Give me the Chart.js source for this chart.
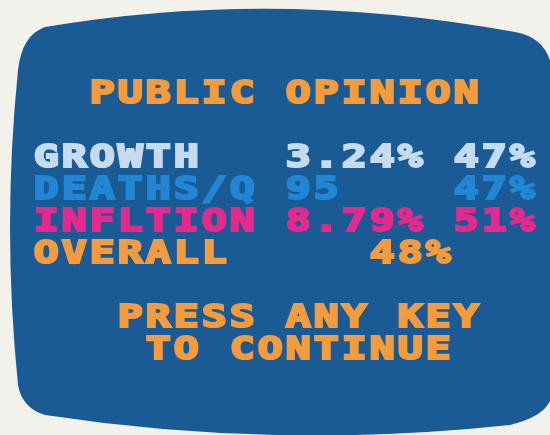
<!DOCTYPE html>
<html>
<head>
<meta charset="utf-8">
<script src="https://cdn.jsdelivr.net/npm/chart.js@4"></script>
<style>
    html, body { margin: 0; padding: 0; background: #f3f1ec; }
    #wrap { position: relative; width: 550px; height: 435px; }
</style>
</head>
<body>
<div id="wrap"><canvas id="screenChart"></canvas></div>
<script>
// screen text, row by row
const title = 'PUBLIC OPINION';
const rowLabels = ['GROWTH', 'DEATHS/Q', 'INFLTION', 'OVERALL'];
const rates = ['3.24%', '95', '8.79%', ''];
const approval = ['47%', '47%', '51%', '48%'];
const promptLines = ['PRESS ANY KEY', 'TO CONTINUE'];

// character grid layout (column, row)
const rateCol = 9;
const approvalCols = [15, 15, 15, 12];
const promptCols = [3, 4];

const ORANGE = '#f39b3d';
const rowColors = ['#c6dcee', '#2186d4', '#e42a8c', ORANGE];

const points = [];
points.push({ x: 2, y: 0, t: title, c: ORANGE });
rowLabels.forEach((lab, i) => {
    const r = 2 + i;
    points.push({ x: 0, y: r, t: lab, c: rowColors[i] });
    if (rates[i]) points.push({ x: rateCol, y: r, t: rates[i], c: rowColors[i] });
    points.push({ x: approvalCols[i], y: r, t: approval[i], c: rowColors[i] });
});
promptLines.forEach((line, i) => {
    points.push({ x: promptCols[i], y: 7 + i, t: line, c: ORANGE });
});

const crtScreen = {
    id: 'crtScreen',
    beforeDraw(chart) {
        const ctx = chart.ctx;
        ctx.save();
        ctx.fillStyle = '#1b5b95';
        ctx.beginPath();
        ctx.moveTo(45, 27);
        ctx.quadraticCurveTo(275, -12, 515, 32);
        ctx.quadraticCurveTo(548, 38, 552, 70);
        ctx.lineTo(552, 395);
        ctx.quadraticCurveTo(548, 416, 510, 425);
        ctx.quadraticCurveTo(275, 450, 45, 415);
        ctx.quadraticCurveTo(22, 408, 18, 385);
        ctx.quadraticCurveTo(2, 228, 18, 70);
        ctx.quadraticCurveTo(22, 35, 45, 27);
        ctx.closePath();
        ctx.fill();
        ctx.restore();
    },
};

const screenText = {
    id: 'screenText',
    afterDatasetsDraw(chart) {
        const ctx = chart.ctx;
        const xs = chart.scales.x;
        const cell = xs.getPixelForValue(1) - xs.getPixelForValue(0);
        const meta = chart.getDatasetMeta(0);
        ctx.save();
        ctx.font = '700 32px "DejaVu Sans Mono"';
        ctx.textAlign = 'center';
        ctx.textBaseline = 'middle';
        ctx.lineWidth = 2.2;
        ctx.lineJoin = 'miter';
        meta.data.forEach((el, i) => {
            const p = points[i];
            ctx.fillStyle = p.c;
            ctx.strokeStyle = p.c;
            [...p.t].forEach((ch, k) => {
                if (ch === ' ') return;
                ctx.save();
                ctx.translate(el.x + cell * (k + 0.4), el.y + 1);
                ctx.scale(1.3, 1);
                ctx.fillText(ch, 0, 0);
                ctx.strokeText(ch, 0, 0);
                ctx.restore();
            });
        });
        ctx.restore();
    },
};

new Chart(document.getElementById('screenChart'), {
    type: 'scatter',
    data: {
        datasets: [{
            data: points,
            pointRadius: 0,
            pointHoverRadius: 0,
        }],
    },
    options: {
        responsive: true,
        maintainAspectRatio: false,
        animation: false,
        layout: { padding: { left: 35, right: 11, top: 94, bottom: 85 } },
        plugins: { legend: { display: false }, tooltip: { enabled: false } },
        scales: {
            x: { type: 'linear', min: 0, max: 18, display: false },
            y: { type: 'linear', min: 0, max: 8, reverse: true, display: false },
        },
    },
    plugins: [crtScreen, screenText],
});
</script>
</body>
</html>
